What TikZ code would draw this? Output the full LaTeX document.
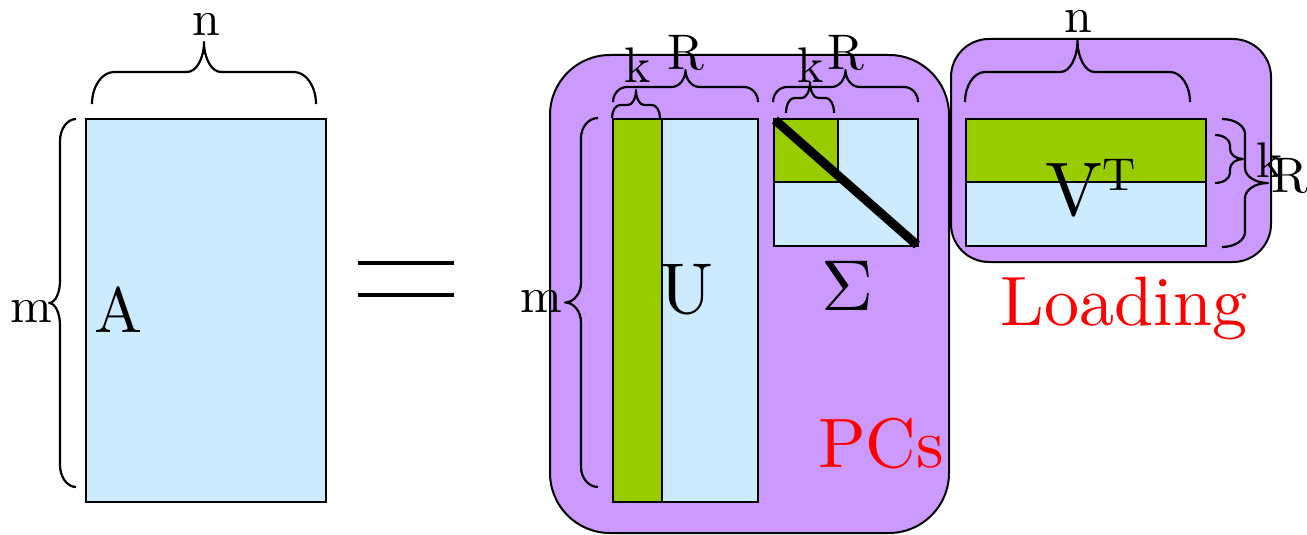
\documentclass[tikz,border=0pt]{standalone}
\usepackage{fontspec}
\setmainfont{lmroman10-regular.otf}
\usetikzlibrary{calc}
\definecolor{lblue}{HTML}{CCEBFF}
\definecolor{lgreen}{HTML}{99CC00}
\definecolor{lpurple}{HTML}{CC99FF}
\newcommand{\fs}[1]{\fontsize{#1}{#1}\selectfont}
\tikzset{
 brc/.style={draw=black, line width=2.2pt, line join=round},
 mat/.style={draw=black, line width=2pt},
 grp/.style={draw=black, line width=2pt, fill=lpurple},
 lbl/.style={anchor=base, inner sep=0pt, font=\fs{50}, text height=26pt},
 big/.style={anchor=base, inner sep=0pt, font=\fs{72}},
 tag/.style={anchor=base, inner sep=0pt, font=\fs{70}, text=red},
}
% horizontal brace pointing up: x1 x2 yend yflat ytip w1 w2
\newcommand{\hbr}[7]{%
\pgfmathsetmacro\brM{(#1+#2)/2}%
\pgfmathsetmacro\brA{#1+#6}%
\pgfmathsetmacro\brB{\brM-#7}%
\pgfmathsetmacro\brC{\brM+#7}%
\pgfmathsetmacro\brD{#2-#6}%
\draw[brc] (#1,#3) .. controls ($(#1,#3)!.55!(#1,#4)$) and ($(\brA,#4)!.55!(#1,#4)$) .. (\brA,#4) -- (\brB,#4) .. controls ($(\brB,#4)!.55!(\brM,#4)$) and ($(\brM,#5)!.55!(\brM,#4)$) .. (\brM,#5) .. controls ($(\brM,#5)!.55!(\brM,#4)$) and ($(\brC,#4)!.55!(\brM,#4)$) .. (\brC,#4) -- (\brD,#4) .. controls ($(\brD,#4)!.55!(#2,#4)$) and ($(#2,#3)!.55!(#2,#4)$) .. (#2,#3);}
% vertical brace: y1 y2 xend xflat xtip w1 w2
\newcommand{\vbr}[7]{%
\pgfmathsetmacro\brM{(#1+#2)/2}%
\pgfmathsetmacro\brA{#1+#6}%
\pgfmathsetmacro\brB{\brM-#7}%
\pgfmathsetmacro\brC{\brM+#7}%
\pgfmathsetmacro\brD{#2-#6}%
\draw[brc] (#3,#1) .. controls ($(#3,#1)!.55!(#4,#1)$) and ($(#4,\brA)!.55!(#4,#1)$) .. (#4,\brA) -- (#4,\brB) .. controls ($(#4,\brB)!.55!(#4,\brM)$) and ($(#5,\brM)!.55!(#4,\brM)$) .. (#5,\brM) .. controls ($(#5,\brM)!.55!(#4,\brM)$) and ($(#4,\brC)!.55!(#4,\brM)$) .. (#4,\brC) -- (#4,\brD) .. controls ($(#4,\brD)!.55!(#4,#2)$) and ($(#3,#2)!.55!(#4,#2)$) .. (#3,#2);}
\begin{document}
\begin{tikzpicture}[x=1pt,y=-1pt]
\useasboundingbox (0,0) rectangle (1307,535);
% group boxes
\draw[grp, rounded corners=60pt] (550,55) rectangle (949,533);
\draw[grp, rounded corners=38pt] (951,39) rectangle (1271,262);
% A
\draw[mat, fill=lblue] (86,119) rectangle (326,502);
% U
\draw[mat, fill=lgreen] (613,119) rectangle (662,502);
\draw[mat, fill=lblue] (662,119) rectangle (758,502);
% Sigma
\draw[mat, fill=lblue] (774,119) rectangle (918,246);
\draw[mat, fill=lgreen] (774,119) rectangle (838,182);
\draw[line width=9pt] (775,120) -- (917,245);
% V^T
\draw[mat, fill=lblue] (966,119) rectangle (1206,246);
\draw[mat, fill=lgreen] (966,119) rectangle (1206,182);
% equals
\draw[line width=4pt] (358,263) -- (454,263);
\draw[line width=4pt] (358,295) -- (454,295);
% braces
\hbr{92}{316}{104}{72}{42}{22}{17}
\vbr{119}{487}{76}{60}{49}{22}{22}
\vbr{118}{487}{598}{581}{565}{20}{20}
\hbr{613}{758}{102}{87}{70}{14}{14}
\hbr{612}{660}{118}{105}{90}{8}{8}
\hbr{773}{918}{102}{87}{70}{14}{14}
\hbr{786}{834}{113}{98}{82}{8}{8}
\hbr{965}{1190}{102}{72}{40}{20}{17}
\vbr{135}{183}{1215}{1230}{1243}{10}{10}
\vbr{119}{247}{1222}{1245}{1268}{15}{15}
% labels
\node[lbl] (nA) at (206,36) {n};
\node[lbl] (mA) at (31,322) {m};
\node[lbl, font=\fs{64}] (A) at (118,332) {A};
\node[lbl] (mU) at (541,312) {m};
\node[lbl] (kU) at (638,83) {k};
\node[lbl] (RU) at (686,70) {R};
\node[lbl] (kS) at (811,83) {k};
\node[lbl] (RS) at (846,70) {R};
\node[big] (U) at (686,313) {U};
\node[big] (S) at (847,310) {Σ};
\node[big, font=\fs{76}] (V) at (1091,215) {V\raisebox{25pt}{\fs{46}T}};
\node[lbl] (nV) at (1078,33) {n};
\node[lbl] (kV) at (1270,177) {k};
\node[lbl] (RV) at (1290,192) {R};
\node[tag] (pcs) at (881,467) {PCs};
\node[tag] (load) at (1124,325) {Loading};
\end{tikzpicture}
\end{document}
